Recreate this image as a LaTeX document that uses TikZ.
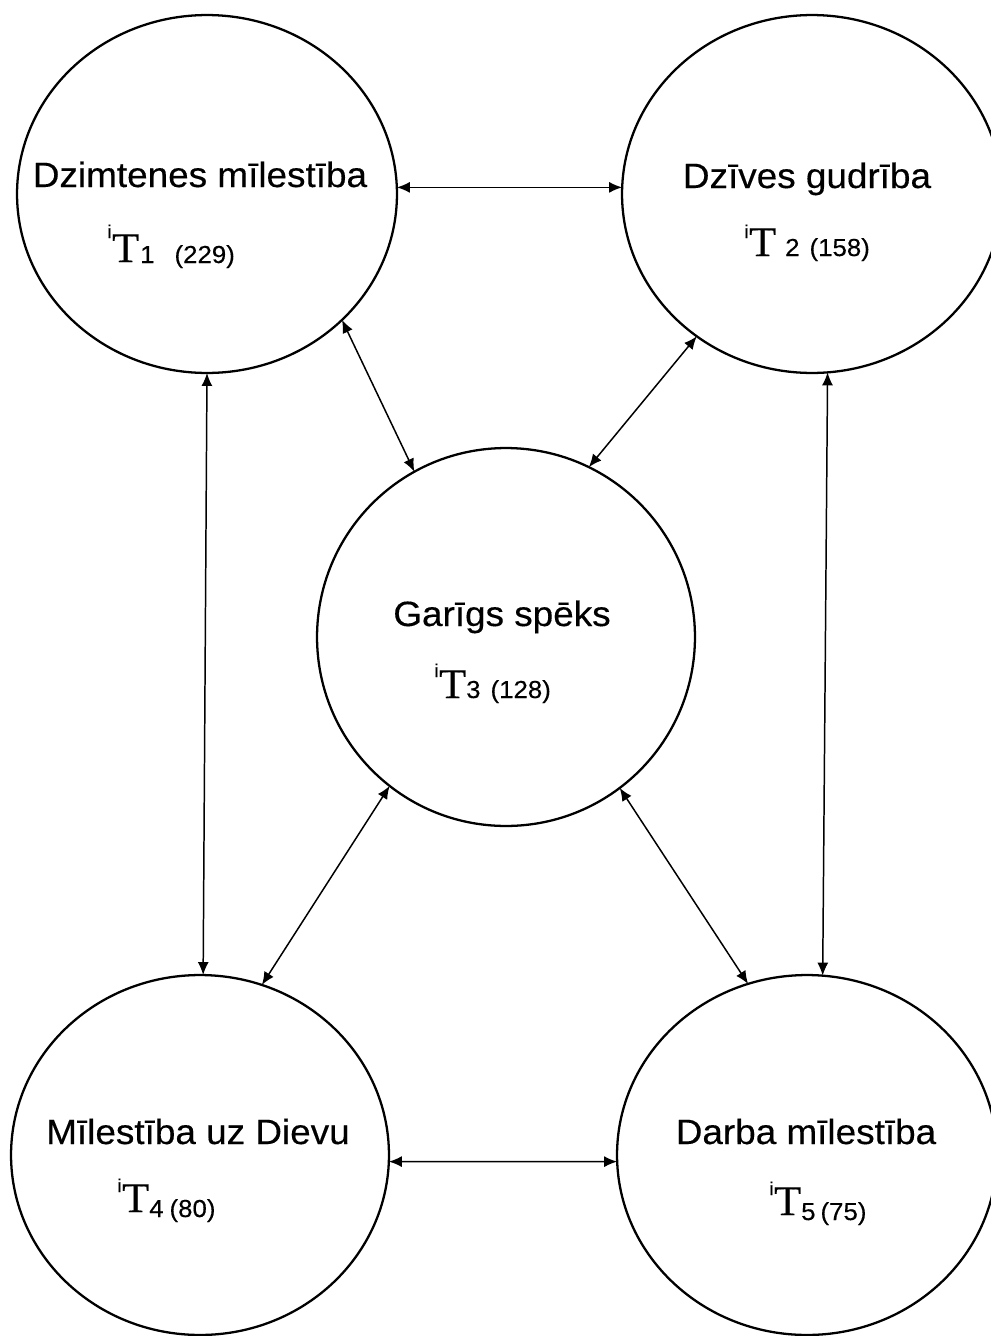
\documentclass[tikz,border=0pt]{standalone}
\usepackage{fontspec}
\setmainfont{Liberation Sans}[FakeStretch=1.05,FakeBold=0.3]
\newfontfamily\serifT{Liberation Serif}[FakeStretch=1.05,FakeBold=0.3]
\usetikzlibrary{shapes.geometric,arrows.meta}
\newlength\px \setlength\px{0.56906pt}
\newcommand\tl[6]{{\fontsize{10.5pt}{11pt}\selectfont\raisebox{#1\px}{i}}\kern0.5\px{\serifT\fontsize{24pt}{26pt}\selectfont T}\kern#2\px{\fontsize{14pt}{16pt}\selectfont\raisebox{-#4\px}{#3}\kern#5\px\raisebox{-#4\px}{(#6)}}}
\tikzset{
  circ/.style={draw, ellipse, line width=1.3pt, inner sep=0pt, outer sep=0pt},
  title/.style={anchor=base, inner sep=0pt, font=\fontsize{20pt}{24pt}\selectfont},
  sub/.style={anchor=base west, inner sep=0pt},
  arr/.style={line width=0.85pt, {Latex[length=0.26cm,width=0.22cm]}-{Latex[length=0.26cm,width=0.22cm]}}
}
\begin{document}
\begin{tikzpicture}[x=0.02cm,y=-0.02cm]
\path[use as bounding box] (0,0) rectangle (991,1336);
\clip (0,0) rectangle (991,1336);
\fill[white] (0,0) rectangle (991,1336);
% circles
\node[circ, minimum width=7.6cm, minimum height=7.16cm] (c1) at (207,194) {};
\node[circ, minimum width=7.6cm, minimum height=7.16cm] (c2) at (812,194) {};
\node[circ, minimum width=7.56cm, minimum height=7.56cm] (c3) at (506,637) {};
\node[circ, minimum width=7.56cm, minimum height=7.2cm] (c4) at (200,1155) {};
\node[circ, minimum width=7.6cm, minimum height=7.2cm] (c5) at (807,1155) {};
% titles
\node[title] (t1) at (200,187) {Dzimtenes mīlestība};
\node[title] (t2) at (807,188) {Dzīves gudrība};
\node[title] (t3) at (502,626) {Garīgs spēks};
\node[title] (t4) at (198,1144) {Mīlestība uz Dievu};
\node[title] (t5) at (806,1144) {Darba mīlestība};
% labels
\node[sub] (l1) at (107,262) {\tl{24}{1}{1}{1}{20}{229}};
\node[sub] (l2) at (744,256) {\tl{18}{9}{2}{0}{10}{158}};
\node[sub] (l3) at (434,698) {\tl{21}{0}{3}{0}{10}{128}};
\node[sub] (l4) at (117,1212) {\tl{20}{0}{4}{5}{6}{80}};
\node[sub] (l5) at (769,1215) {\tl{20}{0}{5}{5}{5}{75}};
% connectors
\draw[arr] (c1.2) -- (c2.178);
\draw[arr] (c1.-43) -- (c3.119);
\draw[arr] (c2.231) -- (c3.64);
\draw[arr] (c1.-90) -- (c4.89);
\draw[arr] (c2.-85) -- (c5.85);
\draw[arr] (c3.232) -- (c4.70);
\draw[arr] (c3.-53) -- (c5.109);
\draw[arr] (c4.-2) -- (c5.182);
\end{tikzpicture}
\end{document}
